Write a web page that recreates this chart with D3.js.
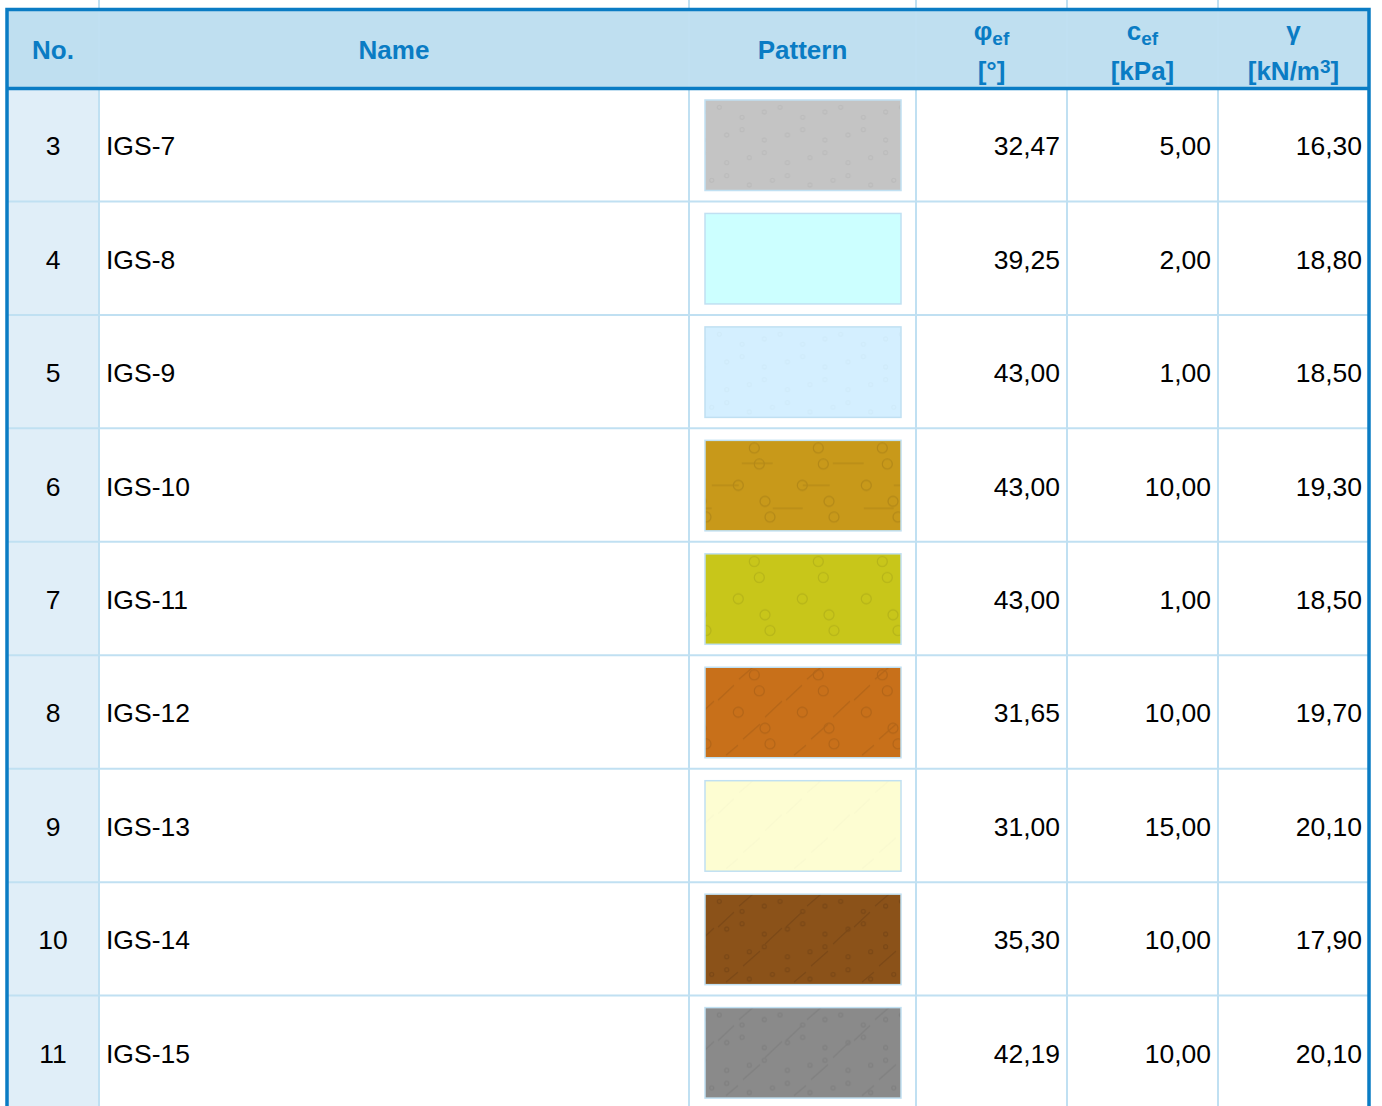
<!DOCTYPE html>
<html>
<head>
<meta charset="utf-8">
<script src="https://cdn.jsdelivr.net/npm/d3@7.9.0/dist/d3.min.js"></script>
<style>
  html, body { margin: 0; padding: 0; background: #fff; }
  svg { display: block; font-family: Arial, 'Liberation Sans', sans-serif; }
</style>
</head>
<body>
<div id="table"></div>
<script>
// table data
const nos = [3, 4, 5, 6, 7, 8, 9, 10, 11];
const names = ['IGS-7', 'IGS-8', 'IGS-9', 'IGS-10', 'IGS-11', 'IGS-12', 'IGS-13', 'IGS-14', 'IGS-15'];
const phiEf = ['32,47', '39,25', '43,00', '43,00', '43,00', '31,65', '31,00', '35,30', '42,19'];
const cEf = ['5,00', '2,00', '1,00', '10,00', '1,00', '10,00', '15,00', '10,00', '10,00'];
const gammas = ['16,30', '18,80', '18,50', '19,30', '18,50', '19,70', '20,10', '17,90', '20,10'];
const fills = ['#c4c4c4', '#ccffff', '#d4efff', '#c8991a', '#c8c61a', '#c8701a', '#fdfdd2', '#8b5219', '#8a8a8a'];
// texture layers used by each swatch
const textures = [['small'], [], ['small'], ['big', 'hlines'], ['big'], ['big', 'diag'], ['diag'], ['small', 'diag'], ['small', 'diag']];
const textureStrength = [0.12, 0, 0.05, 0.3, 0.25, 0.3, 0.04, 0.35, 0.22];

const W = 1382, H = 1106;
const blue = '#0a7cc4';
const lineCol = '#c0e0f2';
const headBg = '#bfdff0';
const noBg = '#e0eef8';

// column edges
const colX = [7, 99, 689, 916, 1067, 1218, 1369];
const headTop = 9.5, headBot = 88.5;
const swX = 705, swY = 12, swW = 196, swH = 90.5;

const y = d3.scaleBand()
  .domain(nos)
  .range([88, 88 + nos.length * 113.45])
  .padding(0);

const svg = d3.select('#table').append('svg')
  .attr('width', W).attr('height', H);

const defs = svg.append('defs');

// texture tiles (geometry of the soil hatch symbols)
const tiles = {
  small: {
    w: 60.7, h: 100, r: 2,
    circles: [[14.3, 7.3], [59.3, 12], [-1.4, 12], [37, 17.3], [37, 29.7], [21.7, 35], [59.3, 40], [-1.4, 40],
      [59.3, 52.7], [-1.4, 52.7], [44.3, 57.7], [21.7, 62.7], [21.7, 75.7], [6.7, 80.3], [44.3, 85]],
    lines: []
  },
  big: {
    w: 64, h: 100, r: 5,
    circles: [[49.3, 7.7], [54.3, 23.7], [33.3, 45], [60, 61], [-4, 61], [1, 76.7], [65, 76.7]],
    lines: []
  },
  hlines: {
    w: 91, h: 100, r: 0, circles: [],
    lines: [[36.7, 23, 67.7, 23], [6.7, 45, 33.7, 45], [67.7, 68, 97.7, 68], [-23.3, 68, 6.7, 68]]
  },
  diag: {
    w: 68, h: 100, r: 0, circles: [],
    lines: [[34, 12, 48, 0], [13, 33, 29, 18], [-8, 50, 9, 34], [60, 50, 77, 34], [38, 72, 55, 57],
      [21, 88, 33, 78], [89, 88, 101, 78], [-30, 72, -13, 57]]
  }
};

nos.forEach((n, i) => {
  textures[i].forEach(key => {
    const t = tiles[key];
    const stroke = d3.color(fills[i]).darker(textureStrength[i]);
    const p = defs.append('pattern')
      .attr('id', `tex-${n}-${key}`)
      .attr('patternUnits', 'userSpaceOnUse')
      .attr('x', swX).attr('y', swY)
      .attr('width', t.w).attr('height', t.h);
    const g = p.append('g').attr('fill', 'none').attr('stroke', stroke).attr('stroke-width', 1.3);
    g.selectAll('circle').data(t.circles).join('circle')
      .attr('cx', d => d[0]).attr('cy', d => d[1]).attr('r', t.r);
    g.selectAll('line').data(t.lines).join('line')
      .attr('x1', d => d[0]).attr('y1', d => d[1])
      .attr('x2', d => d[2]).attr('y2', d => d[3]);
  });
});

// header background
svg.append('rect')
  .attr('x', colX[0]).attr('y', headTop)
  .attr('width', colX[6] - colX[0]).attr('height', headBot - headTop)
  .attr('fill', headBg);

// No. column background
svg.append('rect')
  .attr('x', colX[0]).attr('y', headBot)
  .attr('width', colX[1] - colX[0]).attr('height', H - headBot)
  .attr('fill', noBg);

// row lines
svg.append('g').selectAll('line')
  .data(nos.slice(1))
  .join('line')
  .attr('x1', colX[0]).attr('x2', colX[6])
  .attr('y1', d => y(d)).attr('y2', d => y(d))
  .attr('stroke', lineCol).attr('stroke-width', 2);

// column separators
svg.append('g').selectAll('line')
  .data(colX.slice(1, 6))
  .join('line')
  .attr('x1', d => d).attr('x2', d => d)
  .attr('y1', 0).attr('y2', H)
  .attr('stroke', lineCol).attr('stroke-width', 2);

// outer border
svg.append('path')
  .attr('d', `M${colX[0]},${H} V${headTop} H${colX[6]} V${H}`)
  .attr('fill', 'none').attr('stroke', blue).attr('stroke-width', 3.5);
svg.append('line')
  .attr('x1', colX[0]).attr('x2', colX[6])
  .attr('y1', headBot).attr('y2', headBot)
  .attr('stroke', blue).attr('stroke-width', 3.5);

// header labels
const head = svg.append('g')
  .attr('fill', blue).attr('font-weight', 'bold').attr('font-size', 26)
  .attr('text-anchor', 'middle');
const mid = i => (colX[i] + colX[i + 1]) / 2;
head.append('text').attr('x', mid(0)).attr('y', 59).text('No.');
head.append('text').attr('x', mid(1)).attr('y', 59).text('Name');
head.append('text').attr('x', mid(2)).attr('y', 59).text('Pattern');

const twoLine = [
  { main: 'φ', sub: 'ef', unit: '[°]' },
  { main: 'c', sub: 'ef', unit: '[kPa]' },
  { main: 'γ', sub: '', unit: '[kN/m', sup: '3', close: ']' }
];
twoLine.forEach((h, k) => {
  const cx = mid(3 + k);
  const t1 = head.append('text').attr('x', cx).attr('y', 40);
  t1.append('tspan').text(h.main);
  if (h.sub) t1.append('tspan').attr('font-size', 19).attr('dy', 5).text(h.sub);
  const t2 = head.append('text').attr('x', cx).attr('y', 80);
  t2.append('tspan').text(h.unit);
  if (h.sup) {
    t2.append('tspan').attr('font-size', 19).attr('dy', -7).text(h.sup);
    t2.append('tspan').attr('dy', 7).text(h.close);
  }
});

// body rows
const rows = svg.append('g').attr('font-size', 26.5).attr('fill', '#000');
const rowG = rows.selectAll('g')
  .data(nos.map((n, i) => ({ n, i })))
  .join('g')
  .attr('transform', d => `translate(0,${y(d.n)})`);

const base = y.bandwidth() / 2 + 10.5;

rowG.append('text')
  .attr('x', mid(0)).attr('y', base).attr('text-anchor', 'middle')
  .text(d => d.n);
rowG.append('text')
  .attr('x', colX[1] + 7).attr('y', base)
  .text(d => names[d.i]);

// swatch: base colour, texture layers, frame
rowG.append('rect')
  .attr('x', swX).attr('y', swY).attr('width', swW).attr('height', swH)
  .attr('fill', d => fills[d.i]);
rowG.each(function (d) {
  const g = d3.select(this);
  textures[d.i].forEach(key => {
    g.append('rect')
      .attr('x', swX).attr('y', swY).attr('width', swW).attr('height', swH)
      .attr('fill', `url(#tex-${d.n}-${key})`);
  });
});
rowG.append('rect')
  .attr('x', swX).attr('y', swY).attr('width', swW).attr('height', swH)
  .attr('fill', 'none')
  .attr('stroke', lineCol).attr('stroke-width', 1.5);

[phiEf, cEf, gammas].forEach((vals, k) => {
  rowG.append('text')
    .attr('x', colX[4 + k] - 7).attr('y', base)
    .attr('text-anchor', 'end')
    .text(d => vals[d.i]);
});
</script>
</body>
</html>
